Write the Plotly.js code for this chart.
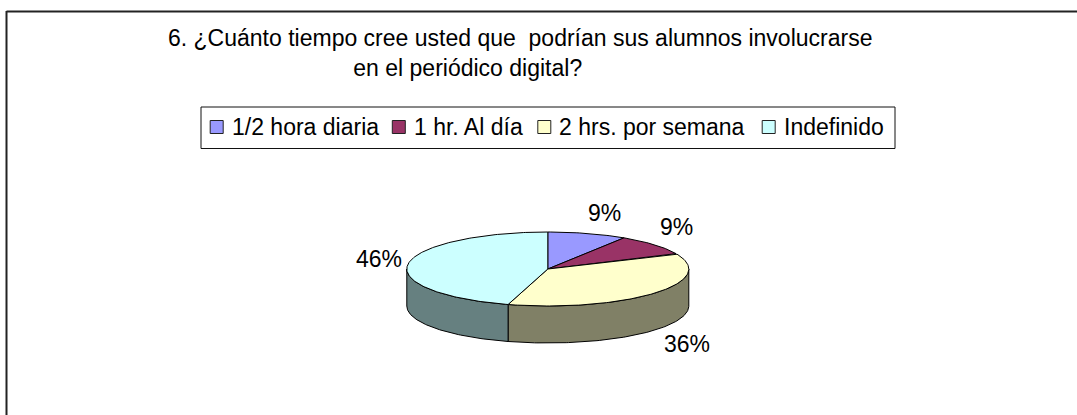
<!DOCTYPE html>
<html><head><meta charset="utf-8">
<script src="https://cdn.plot.ly/plotly-3.0.1.min.js"></script>
<style>html,body{margin:0;padding:0;background:#fff}#chart{width:1077px;height:415px}</style>
</head><body><div id="chart"></div>
<script>
const categories = ["1/2 hora diaria", "1 hr. Al día", "2 hrs. por semana", "Indefinido"];
const values = [9.1, 9.1, 36.4, 45.5];
const valueLabels = ["9%", "9%", "36%", "46%"];
const topColors = ["#9999FF", "#993366", "#FFFFCC", "#CCFFFF"];
const wallColors = ["#4C4C80", "#4C1A33", "#808066", "#668080"];
const titleLines = ["6. ¿Cuánto tiempo cree usted que\u00A0\u00A0podrían sus alumnos involucrarse",
                    "\u00A0".repeat(29) + "en el periódico digital?"];

const cx = 547.8, cy = 269, rx = 141, ry = 37, depth = 37;
const FONT = "Liberation Sans, Arial, sans-serif";
const FS = 23;
const px = d => cx + rx * Math.sin(d * Math.PI / 180);
const py = d => cy - ry * Math.cos(d * Math.PI / 180);
const total = values.reduce((a, b) => a + b, 0);

let start = 0;
const slices = values.map(v => { const s = {a: start, b: start + v / total * 360}; start = s.b; return s; });
const arc = (a, b) => { const r = []; const n = Math.max(2, Math.ceil(b - a)); for (let i = 0; i <= n; i++) r.push(a + (b - a) * i / n); return r; };

const traces = [];
slices.forEach((s, i) => {
  const a = Math.max(s.a, 90), b = Math.min(s.b, 270);
  if (b <= a) return;
  const t = arc(a, b), back = t.slice().reverse();
  traces.push({type: "scatter", mode: "lines", fill: "toself", fillcolor: wallColors[i],
    x: t.map(px).concat(back.map(px), [px(a)]),
    y: t.map(py).concat(back.map(d => py(d) + depth), [py(a)]),
    line: {color: "#000", width: 1}, showlegend: false, hoverinfo: "skip"});
});
slices.forEach((s, i) => {
  const t = arc(s.a, s.b);
  traces.push({type: "scatter", mode: "lines", fill: "toself", fillcolor: topColors[i],
    x: [cx].concat(t.map(px), [cx]), y: [cy].concat(t.map(py), [cy]),
    line: {color: "#000", width: 1}, name: categories[i], showlegend: false,
    text: valueLabels[i], hoverinfo: "name+text"});
});

// legend key, laid out to the reference's tight spacing
const keyX = [216.7, 398.8, 544.3, 768.7], keyY = 127, keyGap = 15;
categories.forEach((c, i) => traces.push({type: "scatter", mode: "markers", x: [keyX[i]], y: [keyY], name: c,
  marker: {symbol: "square", size: 13, color: topColors[i], line: {color: "#222", width: 1}},
  showlegend: false, hoverinfo: "name"}));

const labelShift = [[17, -21], [22, -17.5], [33, 51], [-29, -5]];
const annotations = slices.map((s, i) => {
  const m = (s.a + s.b) / 2;
  return {x: px(m), y: py(m), text: valueLabels[i], showarrow: false, xref: "x", yref: "y",
    xshift: labelShift[i][0], yshift: -labelShift[i][1], font: {family: FONT, size: FS, color: "#000"}};
}).concat(categories.map((c, i) => ({x: keyX[i] + keyGap, y: keyY, text: c, showarrow: false, xref: "x", yref: "y",
    xanchor: "left", yanchor: "middle", xshift: -2, font: {family: FONT, size: FS, color: "#000"}})));

const layout = {
  width: 1077, height: 415, margin: {l: 0, r: 0, t: 0, b: 0},
  paper_bgcolor: "#fff", plot_bgcolor: "#fff", showlegend: false,
  title: {text: titleLines.join("<br>"), x: 168 / 1077, xanchor: "left", xref: "paper",
          y: 1 - 46 / 415, yanchor: "top", font: {family: FONT, size: FS, color: "#000"}},
  xaxis: {range: [0, 1077], visible: false, fixedrange: true},
  yaxis: {range: [415, 0], visible: false, fixedrange: true},
  shapes: [
    {type: "line", xref: "x", yref: "y", x0: 6.5, x1: 1077, y0: 11.5, y1: 11.5, line: {color: "#222", width: 2}},
    {type: "line", xref: "x", yref: "y", x0: 6.5, x1: 6.5, y0: 11, y1: 415, line: {color: "#222", width: 2}},
    {type: "rect", xref: "x", yref: "y", x0: 201, x1: 895, y0: 107, y1: 148.5, line: {color: "#111", width: 1}}
  ],
  annotations: annotations
};
Plotly.newPlot("chart", traces, layout, {displayModeBar: false});
</script></body></html>
